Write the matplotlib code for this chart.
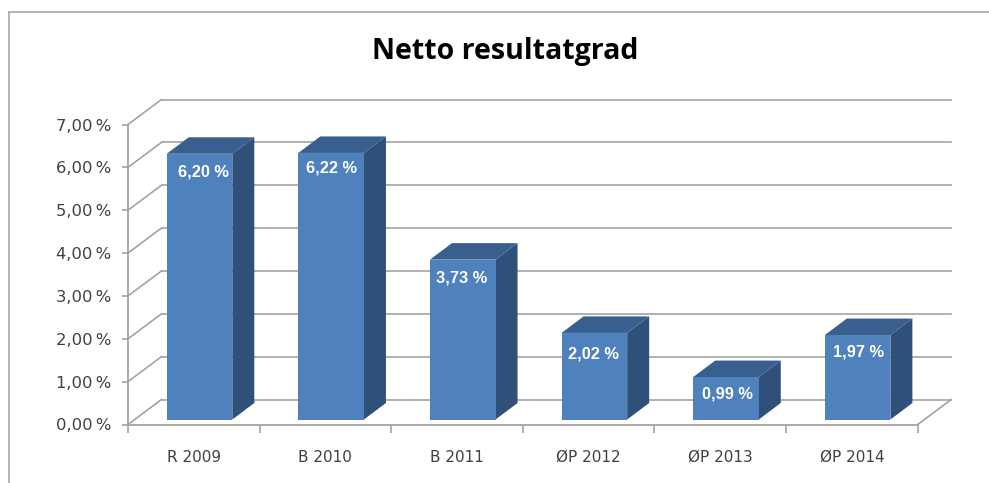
import matplotlib
matplotlib.use('Agg')
import matplotlib.pyplot as plt
from matplotlib.lines import Line2D
from matplotlib.patches import Polygon

categories = ['R 2009', 'B 2010', 'B 2011', 'ØP 2012', 'ØP 2013', 'ØP 2014']
values = [6.20, 6.22, 3.73, 2.02, 0.99, 1.97]
value_labels = ['6,20 %', '6,22 %', '3,73 %', '2,02 %', '0,99 %', '1,97 %']
y_ticks = [0, 1, 2, 3, 4, 5, 6, 7]
y_tick_labels = ['0,00\u2009%', '1,00\u2009%', '2,00\u2009%', '3,00\u2009%',
                 '4,00\u2009%', '5,00\u2009%', '6,00\u2009%', '7,00\u2009%']

# where the labels sit inside each bar, px from the middle of the top edge
label_dx = [4, 0, -1, -1, 1, 1]
label_dy = [-18, -15, -18, -21, -17, -17]

W, H = 989, 483
GRID = '#a3a3a3'
FRONT = '#4f81bd'
SIDE = '#2e5079'
TOP = '#385f8e'

fig = plt.figure(figsize=(W / 100, H / 100), dpi=100)
ax = fig.add_axes([128 / W, (H - 424.5) / H, 789.7 / W, 300 / H])
ax.set_xlim(0, 6)
ax.set_ylim(0, 7)
ax.patch.set_visible(False)

# fake 3d depth in data units
wall_dx = 33.5 / 131.6
wall_dy = 25 / 42.86
bar_dx = 22 / 131.6
bar_dy = 16.5 / 42.86
bar_w = 65.6 / 131.6
bar_left = 38.7 / 131.6
bar_floor = 5 / 42.86

for t in y_ticks:
    ax.plot([0, wall_dx], [t, t + wall_dy], color=GRID, lw=1.2, clip_on=False, zorder=1)
    ax.plot([wall_dx, 6 + wall_dx], [t + wall_dy, t + wall_dy], color=GRID, lw=1.2, clip_on=False, zorder=1)
ax.plot([6, 6 + wall_dx], [0, wall_dy], color=GRID, lw=1.2, clip_on=False, zorder=1)

for i, v in enumerate(values):
    x0 = i + bar_left
    x1 = x0 + bar_w
    y0 = bar_floor
    y1 = v + bar_floor
    ax.add_patch(Polygon([(x1, y0), (x1 + bar_dx, y0 + bar_dy), (x1 + bar_dx, y1 + bar_dy), (x1, y1)],
                         fc=SIDE, ec='none', clip_on=False, zorder=3))
    ax.add_patch(Polygon([(x0, y1), (x1, y1), (x1 + bar_dx, y1 + bar_dy), (x0 + bar_dx, y1 + bar_dy)],
                         fc=TOP, ec='none', clip_on=False, zorder=3))
    ax.bar(x0, y1 - y0, width=bar_w, bottom=y0, align='edge', color=FRONT, zorder=4)
    ax.annotate(value_labels[i], xy=((x0 + x1) / 2, y1), xycoords='data',
                xytext=(label_dx[i] * 0.72, label_dy[i] * 0.72), textcoords='offset points',
                ha='center', va='center', color='white', fontsize=11.8, fontweight='bold',
                family='Liberation Sans', zorder=5)

for s in ['top', 'right']:
    ax.spines[s].set_visible(False)
for s in ['left', 'bottom']:
    ax.spines[s].set_color(GRID)
    ax.spines[s].set_linewidth(1.3)

ax.set_yticks(y_ticks)
ax.set_yticklabels(y_tick_labels)
ax.set_xticks(range(7))
ax.set_xticklabels([])
ax.set_xticks([i + 0.5 for i in range(6)], minor=True)
ax.set_xticklabels(categories, minor=True)
ax.tick_params(axis='y', length=4.3, width=1.2, color=GRID, pad=8, labelsize=11.8, labelcolor='#404040')
ax.tick_params(axis='x', which='major', length=6, width=1.2, color=GRID)
ax.tick_params(axis='x', which='minor', length=0, pad=18, labelsize=11, labelcolor='#404040')

# picture frame
fig.add_artist(Line2D([9 / W, 9 / W], [0, (H - 12) / H], color='#a8a8a8', lw=1.2))
fig.add_artist(Line2D([9 / W, 1], [(H - 12) / H, (H - 12) / H], color='#a8a8a8', lw=1.2))

fig.text(505.5 / W, (H - 52) / H, 'Netto resultatgrad', ha='center', va='center',
         fontsize=20.5, fontweight='bold', family='Open Sans', color='black')

fig.savefig('out.png', dpi=100)
